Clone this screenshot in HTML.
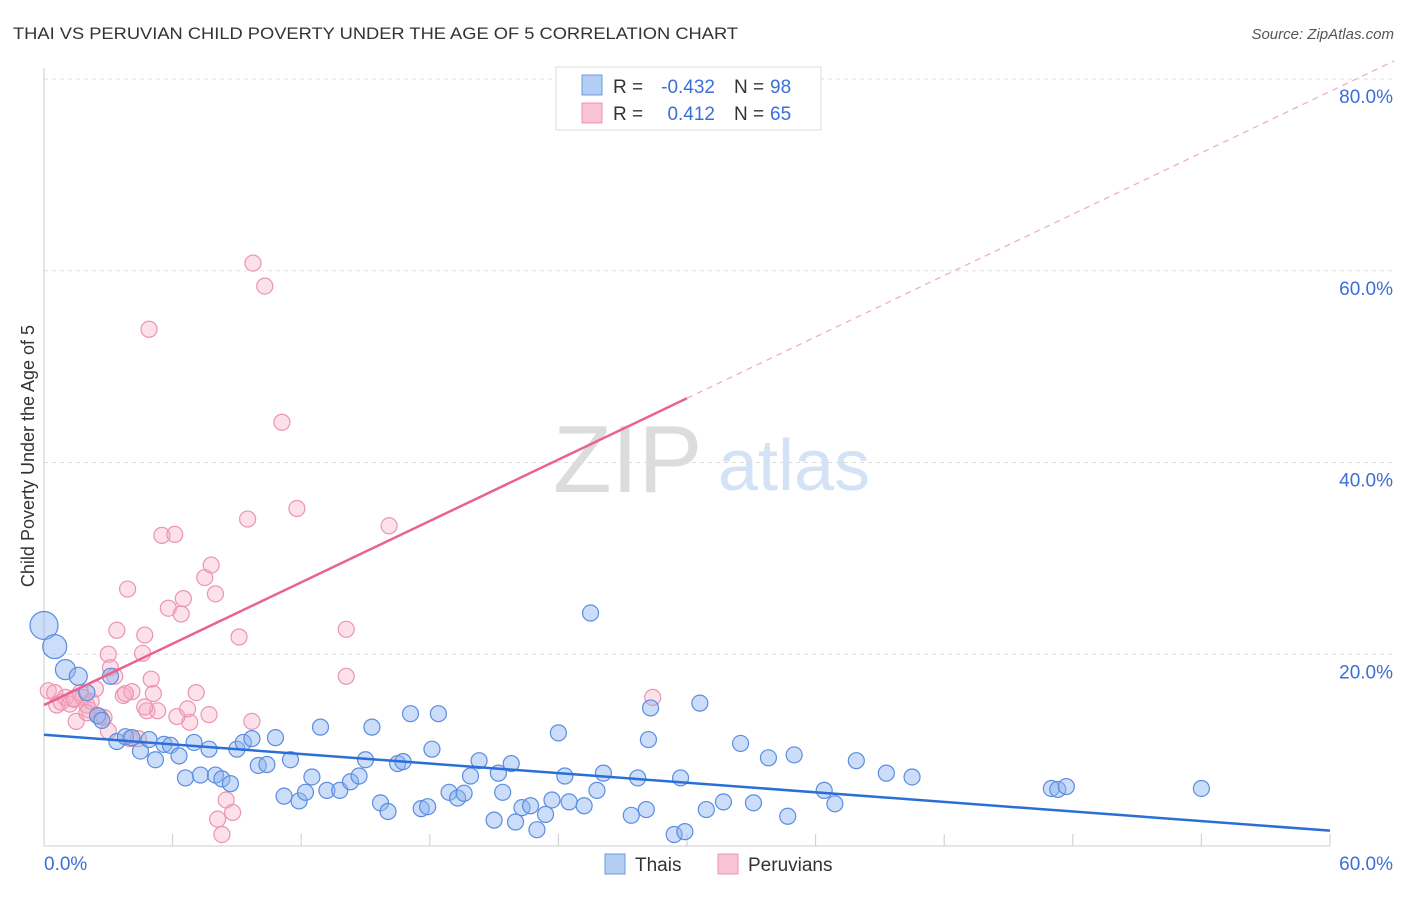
<!DOCTYPE html>
<html><head><meta charset="utf-8"><style>
body{margin:0;background:#fff;font-family:"Liberation Sans",sans-serif;}
svg text{font-family:"Liberation Sans",sans-serif;}
</style></head><body>
<svg width="1406" height="892" viewBox="0 0 1406 892" xmlns="http://www.w3.org/2000/svg">
<text x="13" y="39" font-size="17" fill="#333" textLength="725" lengthAdjust="spacingAndGlyphs">THAI VS PERUVIAN CHILD POVERTY UNDER THE AGE OF 5 CORRELATION CHART</text>
<text x="1394" y="39" font-size="15" fill="#555" text-anchor="end" font-style="italic">Source: ZipAtlas.com</text>
<g>
<text x="553" y="492" font-size="96" fill="#dcdcdc" font-family="Liberation Serif,serif">ZIP</text>
<text x="718" y="490" font-size="72" fill="#d4e2f6">atlas</text>
</g>
<g id="grid"></g>
<g id="axes"></g>
<text transform="translate(34,456) rotate(-90)" font-size="18" fill="#333" text-anchor="middle">Child Poverty Under the Age of 5</text>
<g id="pink"></g>
<g id="blue"></g>
<g id="trends"></g>
<g>
<rect x="556" y="67" width="265" height="63" fill="#fff" stroke="#ddd"/>
<rect x="582" y="75" width="20" height="20" fill="#b4cdf2" stroke="#6d9be0"/>
<rect x="582" y="103" width="20" height="20" fill="#f8c4d3" stroke="#ec94b0"/>
<text x="613" y="93" font-size="19" fill="#333">R =</text>
<text x="715" y="93" font-size="19" fill="#3a6fd8" text-anchor="end">-0.432</text>
<text x="734" y="93" font-size="19" fill="#333">N =</text>
<text x="770" y="93" font-size="19" fill="#3a6fd8">98</text>
<text x="613" y="120" font-size="19" fill="#333">R =</text>
<text x="715" y="120" font-size="19" fill="#3a6fd8" text-anchor="end">0.412</text>
<text x="734" y="120" font-size="19" fill="#333">N =</text>
<text x="770" y="120" font-size="19" fill="#3a6fd8">65</text>
</g>
<g>
<rect x="605" y="854" width="20" height="20" fill="#b4cdf2" stroke="#6d9be0"/>
<text x="635" y="871" font-size="19" fill="#333">Thais</text>
<rect x="718" y="854" width="20" height="20" fill="#f8c4d3" stroke="#ec94b0"/>
<text x="748" y="871" font-size="19" fill="#333">Peruvians</text>
</g>
</svg>
<script>
const yTicks=[20,40,60,80];
const yTickLabels=["20.0%","40.0%","60.0%","80.0%"];
const xTickLabels=["0.0%","60.0%"];
const thaiX=[0,0.5,1,1.6,2,2.5,2.7,3.1,3.4,3.8,4.1,4.5,4.9,5.2,5.6,5.9,6.3,6.6,7,7.3,7.7,8,8.3,8.7,9,9.3,9.7,10,10.4,10.8,11.2,11.5,11.9,12.2,12.5,12.9,13.2,13.8,14.3,14.7,15,15.3,15.7,16.05,16.5,16.75,17.1,17.6,17.9,18.1,18.4,18.9,19.3,19.6,19.9,20.3,21,21.2,21.4,21.8,22,22.3,22.7,23,23.4,23.7,24,24.3,24.5,25.2,25.5,25.8,26.1,27.4,27.7,28.1,28.3,28.2,29.4,29.7,29.9,30.6,30.9,31.7,32.5,33.1,33.8,34.7,35,36.4,36.9,37.9,39.3,40.5,47,47.3,47.7,54.0];
const thaiY=[23,20.8,18.4,17.7,16,13.6,13.1,17.7,10.9,11.4,11.3,9.9,11.1,9,10.6,10.5,9.4,7.1,10.8,7.4,10.1,7.4,7,6.5,10.1,10.8,11.2,8.4,8.5,11.3,5.2,9,4.7,5.6,7.2,12.4,5.8,5.8,6.7,7.3,9,12.4,4.5,3.6,8.6,8.8,13.8,3.9,4.1,10.1,13.8,5.6,5,5.5,7.3,8.9,2.7,7.6,5.6,8.6,2.5,4,4.2,1.7,3.3,4.8,11.8,7.3,4.6,4.2,24.3,5.8,7.6,3.2,7.1,3.8,14.4,11.1,1.2,7.1,1.5,14.9,3.8,4.6,10.7,4.5,9.2,3.1,9.5,5.8,4.4,8.9,7.6,7.2,6,5.9,6.2,6.0];
const thaiR=[14,12,10,9,8,8,8,8,8,8,8,8,8,8,8,8,8,8,8,8,8,8,8,8,8,8,8,8,8,8,8,8,8,8,8,8,8,8,8,8,8,8,8,8,8,8,8,8,8,8,8,8,8,8,8,8,8,8,8,8,8,8,8,8,8,8,8,8,8,8,8,8,8,8,8,8,8,8,8,8,8,8,8,8,8,8,8,8,8,8,8,8,8,8,8,8,8,8];
const peruX=[0.2,0.5,0.6,0.8,1,1.2,1.4,1.5,1.7,1.8,2,2.1,2.2,2.4,2.6,2.8,3,3.1,3.3,3.4,3.7,3.9,4,4.1,4.4,4.6,4.7,4.8,4.9,5,5.1,5.3,5.5,5.8,6.1,6.4,6.5,6.8,7.1,7.5,7.8,8,8.1,8.3,8.5,8.8,9.1,9.5,9.7,9.75,10.3,11.1,11.8,14.1,14.1,16.1,28.4,1.4,2,3,3.8,4.7,6.2,6.7,7.7];
const peruY=[16.2,16,14.7,15,15.5,14.8,15.4,13,16,15.5,14.7,14.2,15.1,16.4,13.5,13.4,20,18.6,17.7,22.5,15.7,26.8,11.2,16.1,11.2,20.1,22,14.1,53.9,17.4,15.9,14.1,32.4,24.8,32.5,24.2,25.8,12.9,16,28,29.3,26.3,2.8,1.2,4.8,3.5,21.8,34.1,13,60.8,58.4,44.2,35.2,22.6,17.7,33.4,15.5,15.3,13.9,12,15.9,14.5,13.5,14.3,13.7];
const X0=44,X1=1330,Y0=846,PX=(X1-X0)/60,PY=(846-79)/80;
const sx=v=>X0+v*PX, sy=v=>Y0-v*PY;
const NS="http://www.w3.org/2000/svg";
function mk(tag,attrs,parent){const e=document.createElementNS(NS,tag);for(const k in attrs)e.setAttribute(k,attrs[k]);parent.appendChild(e);return e;}
const grid=document.getElementById('grid');
yTicks.forEach((t,i)=>{
  const l=mk('line',{x1:X0,x2:1394,y1:sy(t),y2:sy(t),stroke:'#ddd','stroke-dasharray':'4,4'},grid);
  
  
  const tx=mk('text',{x:1393,y:sy(t)+24,'font-size':19,fill:'#3a6fd8','text-anchor':'end'},grid);
  tx.textContent=yTickLabels[i];
  
  
});
const ax=document.getElementById('axes');
mk('line',{x1:X0,x2:X0,y1:68,y2:Y0,stroke:'#ccc'},ax);
mk('line',{x1:X0,x2:X1,y1:Y0,y2:Y0,stroke:'#ccc'},ax);
for(let i=0;i<=10;i++){mk('line',{x1:sx(i*6),x2:sx(i*6),y1:Y0,y2:Y0-12,stroke:'#ccc'},ax);}
const xl0=mk('text',{x:44,y:870,'font-size':19,fill:'#3a6fd8'},ax);xl0.textContent=xTickLabels[0];


const xl1=mk('text',{x:1393,y:870,'font-size':19,fill:'#3a6fd8','text-anchor':'end'},ax);xl1.textContent=xTickLabels[1];


const pg=document.getElementById('pink');
peruX.forEach((x,i)=>{const c=mk('circle',{cx:sx(x),cy:sy(peruY[i]),r:8,fill:'rgba(245,170,195,0.35)',stroke:'#ec94b0','stroke-width':1.2},pg);

});
const bg=document.getElementById('blue');
thaiX.forEach((x,i)=>{const c=mk('circle',{cx:sx(x),cy:sy(thaiY[i]),r:thaiR[i],fill:'rgba(140,180,240,0.45)',stroke:'#5a8de0','stroke-width':1.2},bg);

});
const tg=document.getElementById('trends');
const bt=mk('line',{x1:sx(0),y1:sy(11.6),x2:sx(60),y2:sy(1.6),stroke:'#2a6fd6','stroke-width':2.5},tg);


const pt=mk('line',{x1:sx(0),y1:sy(14.7),x2:sx(30),y2:sy(46.7),stroke:'#e8648f','stroke-width':2.5},tg);


const pd=mk('line',{x1:sx(30),y1:sy(46.7),x2:sx(63),y2:sy(81.9),stroke:'#eeaac0','stroke-width':1.2,'stroke-dasharray':'6,5'},tg);


</script>
</body></html>
